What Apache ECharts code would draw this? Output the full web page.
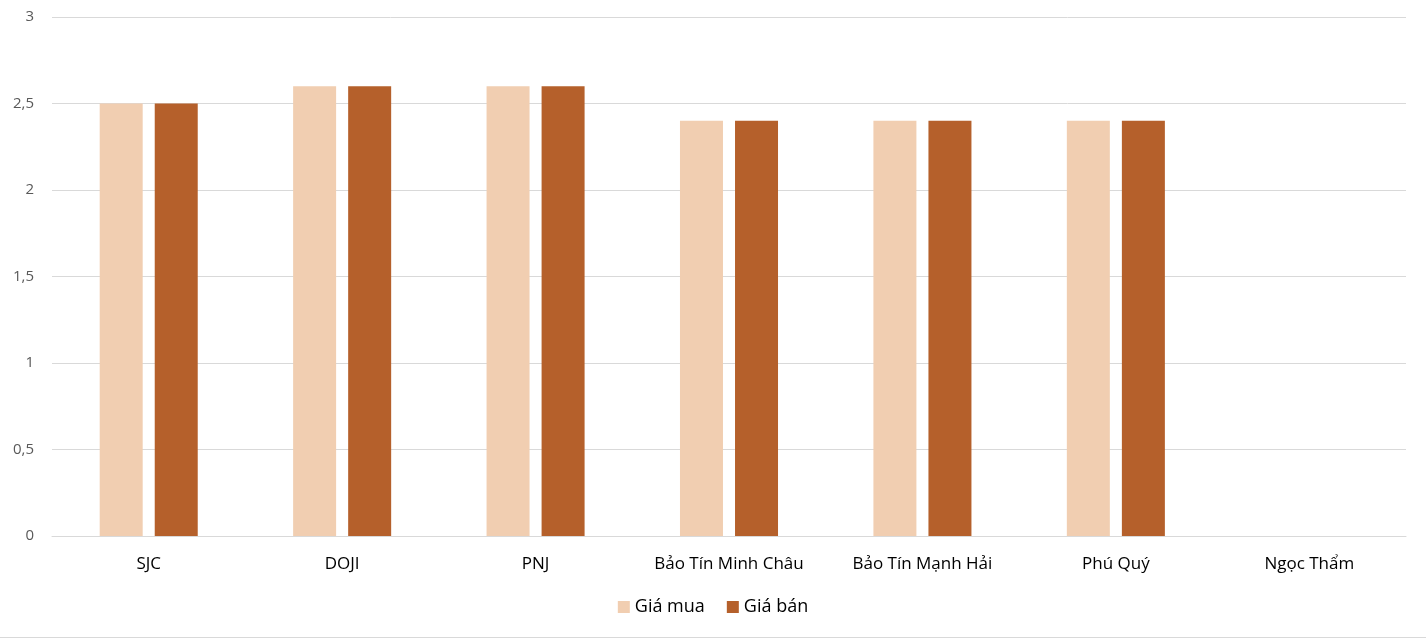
<!DOCTYPE html>
<html>
<head>
<meta charset="utf-8">
<script src="https://cdn.jsdelivr.net/npm/echarts@6/dist/echarts.min.js"></script>
<style>
html,body{margin:0;padding:0;background:#fff;}
#chart{width:1426px;height:637px;border-bottom:1px solid #d9d9d9;}
</style>
</head>
<body>
<div id="chart"></div>
<script>
const categories = ["SJC", "DOJI", "PNJ", "Bảo Tín Minh Châu", "Bảo Tín Mạnh Hải", "Phú Quý", "Ngọc Thẩm"];
const giaMua = [2.5, 2.6, 2.6, 2.4, 2.4, 2.4, null];
const giaBan = [2.5, 2.6, 2.6, 2.4, 2.4, 2.4, null];
const seriesNames = ["Giá mua", "Giá bán"];
const colors = ["#F1CEB1", "#B5602B"];

const chart = echarts.init(document.getElementById('chart'));
const fontFamily = "'Open Sans', 'Liberation Sans', sans-serif";
chart.setOption({
  animation: false,
  textStyle: {fontFamily: fontFamily},
  grid: {left: 52, right: 20, top: 17, bottom: 101},
  legend: {
    bottom: 16,
    left: 'center',
    itemWidth: 12,
    itemHeight: 12,
    itemGap: 22,
    icon: 'rect',
    textStyle: {fontSize: 18, color: '#000', fontFamily: fontFamily},
    data: seriesNames
  },
  xAxis: {
    type: 'category',
    data: categories,
    axisLine: {lineStyle: {color: '#d9d9d9', width: 1}},
    axisTick: {show: false},
    axisLabel: {interval: 0, hideOverlap: false, fontSize: 17, color: '#000', margin: 20, fontFamily: fontFamily}
  },
  yAxis: {
    type: 'value',
    min: 0, max: 3, interval: 0.5,
    axisLine: {show: false},
    axisTick: {show: false},
    splitLine: {lineStyle: {color: '#d9d9d9', width: 1}},
    axisLabel: {
      fontSize: 15, color: '#595959', margin: 18, fontFamily: fontFamily,
      formatter: v => String(v).replace('.', ',')
    }
  },
  series: [
    {name: seriesNames[0], type: 'bar', data: giaMua, barWidth: 43, barGap: '28%', itemStyle: {color: colors[0]}},
    {name: seriesNames[1], type: 'bar', data: giaBan, barWidth: 43, barGap: '28%', itemStyle: {color: colors[1]}}
  ]
});
</script>
</body>
</html>
